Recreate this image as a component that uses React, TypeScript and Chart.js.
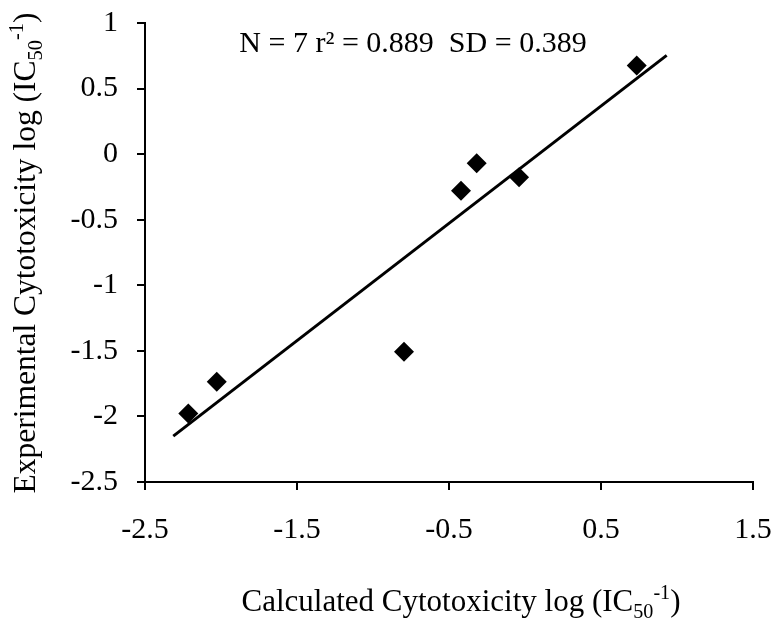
import React, { useEffect, useRef } from "react";
import { Chart, registerables } from "chart.js";

Chart.register(...registerables);

const calcX = [-2.215, -2.028, -0.796, -0.421, -0.318, -0.039, 0.735];
const expY = [-1.977, -1.736, -1.507, -0.28, -0.069, -0.176, 0.676];
const fitX = [-2.314, 0.932];
const fitY = [-2.15, 0.753];
const xTicks = [-2.5, -1.5, -0.5, 0.5, 1.5];
const yTicks = [-2.5, -2, -1.5, -1, -0.5, 0, 0.5, 1];
const statsText = "N = 7 r\u00B2 = 0.889  SD = 0.389";

const FONT = "'Liberation Serif', 'Times New Roman', serif";

type Part = { t: string; sub?: boolean; sup?: boolean };

function richWidth(ctx: CanvasRenderingContext2D, parts: Part[], size: number) {
  let w = 0;
  for (const p of parts) {
    const s = p.sub || p.sup ? size * 0.65 : size;
    ctx.font = `${s}px ${FONT}`;
    w += ctx.measureText(p.t).width;
  }
  return w;
}

function drawRich(ctx: CanvasRenderingContext2D, parts: Part[], size: number, x: number, y: number) {
  const w = richWidth(ctx, parts, size);
  let cx = x - w / 2;
  ctx.textAlign = "left";
  ctx.textBaseline = "alphabetic";
  for (const p of parts) {
    const s = p.sub || p.sup ? size * 0.65 : size;
    ctx.font = `${s}px ${FONT}`;
    const dy = p.sub ? size * 0.22 : p.sup ? -size * 0.38 : 0;
    ctx.fillText(p.t, cx, y + dy);
    cx += ctx.measureText(p.t).width;
  }
}

const xTitle: Part[] = [{ t: "Calculated Cytotoxicity log (IC" }, { t: "50", sub: true }, { t: "-1", sup: true }, { t: ")" }];
const yTitle: Part[] = [{ t: "Experimental Cytotoxicity log (IC" }, { t: "50", sub: true }, { t: "-1", sup: true }, { t: ")" }];

const textPlugin = {
  id: "texts",
  afterDraw(chart: any) {
    const ctx = chart.ctx as CanvasRenderingContext2D;
    ctx.save();
    ctx.fillStyle = "#000";
    drawRich(ctx, xTitle, 31, 461, 611);
    ctx.save();
    ctx.translate(35, 253);
    ctx.rotate(-Math.PI / 2);
    drawRich(ctx, yTitle, 31.5, 0, 0);
    ctx.restore();
    drawRich(ctx, [{ t: statsText }], 30, 413, 52);
    ctx.restore();
  },
};

export default function App() {
  const ref = useRef<HTMLCanvasElement>(null);
  useEffect(() => {
    if (!ref.current) return;
    const chart = new Chart(ref.current, {
      type: "scatter",
      data: {
        datasets: [
          {
            data: calcX.map((x, i) => ({ x, y: expY[i] })),
            pointStyle: "rectRot",
            pointRadius: 10,
            backgroundColor: "#000",
            borderColor: "#000",
            borderWidth: 0,
          },
          {
            data: fitX.map((x, i) => ({ x, y: fitY[i] })),
            showLine: true,
            pointRadius: 0,
            borderColor: "#000",
            borderWidth: 3,
          },
        ],
      },
      options: {
        responsive: false,
        animation: false,
        layout: { padding: { top: 23, right: 22, left: 0, bottom: 0 } },
        plugins: { legend: { display: false }, tooltip: { enabled: false } },
        scales: {
          x: {
            type: "linear",
            min: -2.5,
            max: 1.5,
            afterBuildTicks: (s: any) => {
              s.ticks = xTicks.map((v) => ({ value: v }));
            },
            afterFit: (s: any) => {
              s.height = 136;
              s.paddingLeft = 0;
              s.paddingRight = 0;
            },
            ticks: {
              callback: (v: any) => String(v),
              color: "#000",
              font: { family: FONT, size: 30 },
              padding: 22,
              maxRotation: 0,
            },
            grid: { drawOnChartArea: false, drawTicks: true, tickLength: 8, color: "#000", lineWidth: 2 },
            border: { display: true, color: "#000", width: 2 },
          },
          y: {
            type: "linear",
            min: -2.5,
            max: 1,
            afterBuildTicks: (s: any) => {
              s.ticks = yTicks.map((v) => ({ value: v }));
            },
            afterFit: (s: any) => {
              s.width = 145;
              s.paddingTop = 0;
              s.paddingBottom = 0;
            },
            ticks: {
              callback: (v: any) => String(v),
              color: "#000",
              font: { family: FONT, size: 30 },
              padding: 19,
            },
            grid: { drawOnChartArea: false, drawTicks: true, tickLength: 8, color: "#000", lineWidth: 2 },
            border: { display: true, color: "#000", width: 2 },
          },
        },
      },
      plugins: [textPlugin],
    });
    return () => chart.destroy();
  }, []);
  return (
    <div style={{ position: "fixed", left: 0, top: 0, width: 775, height: 618, background: "#fff" }}>
      <canvas ref={ref} width={775} height={618} style={{ display: "block" }} />
    </div>
  );
}
